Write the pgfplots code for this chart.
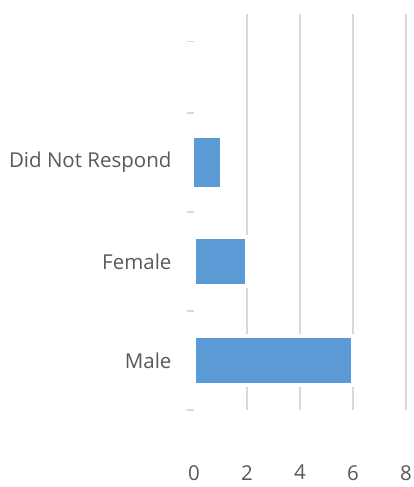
\documentclass[border=0pt]{standalone}
\usepackage{fontspec}
\setmainfont{Open Sans}
\usepackage{pgfplots}
\pgfplotsset{compat=1.18}
\definecolor{barblue}{HTML}{5B9BD5}
\definecolor{txt}{HTML}{595959}
\definecolor{gridc}{HTML}{D9D9D9}
\begin{document}
\begin{tikzpicture}
\begin{axis}[
    name=ax,
    scale only axis,
    width=212pt, height=396pt,
    xmin=0, xmax=8,
    ymin=-0.5, ymax=3.5,
    axis line style={draw=none},
    xtick={2,4,6,8},
    extra x ticks={0},
    extra x tick style={grid=none},
    xmajorgrids,
    grid style={gridc, line width=1.5pt},
    x tick style={draw=none},
    xticklabel style={inner sep=0pt, yshift=-48pt},
    ytick={-0.5,0.5,1.5,2.5,3.22},
    yticklabels={},
    ytick pos=left,
    tick align=outside,
    major tick length=7pt,
    y tick style={gridc, line width=1.5pt},
    extra y ticks={0,1,2},
    extra y tick labels={Male,Female,Did Not Respond},
    extra y tick style={major tick length=0pt, yticklabel style={xshift=-19pt}},
    tick label style={font=\fontsize{20.5}{23}\selectfont, text=txt},
    /pgf/number format/assume math mode=true,
    clip=false,
]
\addplot[xbar, bar width=0.505, bar shift=0pt, fill=barblue, draw=white, line width=4pt]
    coordinates {(6,0) (2,1)};
\addplot[xbar, bar width=0.505, bar shift=0pt, fill=barblue, draw=none]
    coordinates {(1,2)};
\end{axis}
\pgfresetboundingbox
\path[use as bounding box] ([shift={(-194pt,-77pt)}]ax.south west) rectangle ([shift={(8pt,14pt)}]ax.north east);
\end{tikzpicture}
\end{document}
